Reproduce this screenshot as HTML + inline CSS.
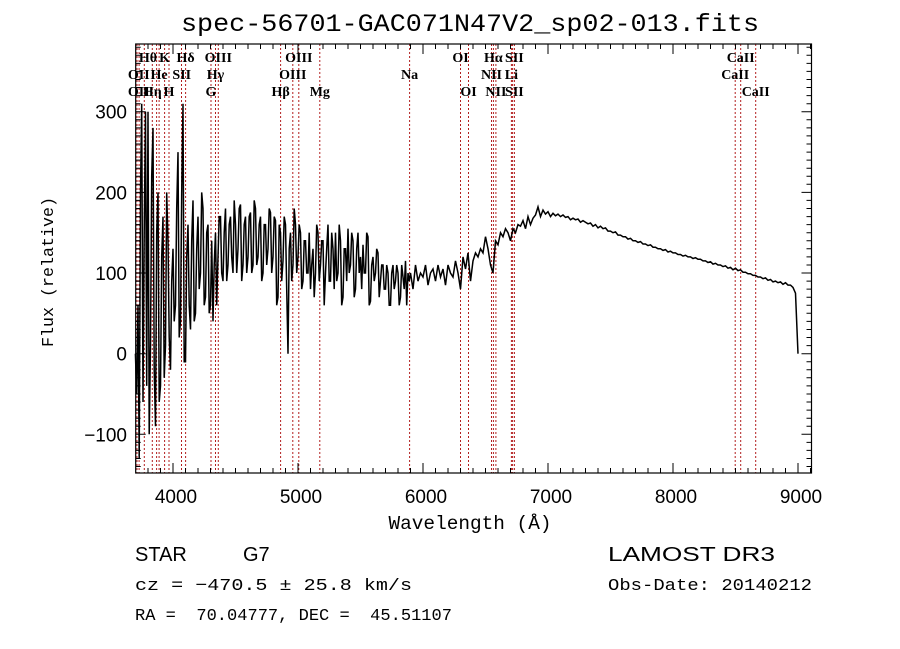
<!DOCTYPE html>
<html><head><meta charset="utf-8"><style>
html,body{margin:0;padding:0;background:#fff;}
svg{display:block;}
text{white-space:pre;}
</style></head><body>
<svg id="chart" width="900" height="649" viewBox="0 0 900 649" xmlns="http://www.w3.org/2000/svg" xml:space="preserve">
<rect width="900" height="649" fill="#fff"/>
<text x="470" y="31" text-anchor="middle" font-family="Liberation Mono, monospace" font-size="25" textLength="578" lengthAdjust="spacingAndGlyphs">spec-56701-GAC071N47V2_sp02-013.fits</text>
<g id="lines"></g>
<g id="labels" font-family="Liberation Serif, serif" font-size="14" font-weight="bold"></g>
<g id="series"></g>
<g id="axes"></g>
<text x="470" y="529" text-anchor="middle" font-family="Liberation Mono, monospace" font-size="19" textLength="163" lengthAdjust="spacingAndGlyphs">Wavelength (Å)</text>
<text transform="translate(53,272) rotate(-90)" text-anchor="middle" font-family="Liberation Mono, monospace" font-size="17" textLength="150" lengthAdjust="spacingAndGlyphs">Flux (relative)</text>
<text x="135" y="561" font-family="Liberation Sans, sans-serif" font-size="20">STAR</text>
<text x="243" y="561" font-family="Liberation Sans, sans-serif" font-size="20">G7</text>
<text x="608" y="561" font-family="Liberation Sans, sans-serif" font-size="20" textLength="167" lengthAdjust="spacingAndGlyphs">LAMOST DR3</text>
<text x="135" y="590" font-family="Liberation Mono, monospace" font-size="17" textLength="277" lengthAdjust="spacingAndGlyphs">cz = −470.5 ± 25.8 km/s</text>
<text x="608" y="590" font-family="Liberation Mono, monospace" font-size="17" textLength="204" lengthAdjust="spacingAndGlyphs">Obs-Date: 20140212</text>
<text x="135" y="620" font-family="Liberation Mono, monospace" font-size="17" textLength="317" lengthAdjust="spacingAndGlyphs">RA =  70.04777, DEC =  45.51107</text>
</svg>
<script>
const blueStart = 3700;
const blueStep = 10;
const blueFlux = [
0,-50,60,-130,200,310,-60,150,300,-40,
300,-100,10,220,280,-20,-90,150,200,-60,
-40,120,170,-30,10,200,140,20,-20,90,
130,40,60,180,250,20,40,200,310,-10,
-10,120,160,60,30,140,190,40,50,130,
170,80,100,200,180,60,70,150,160,50,
60,140,40,110,150,60,120,170,170,100,
90,150,180,90,110,160,170,120,100,190,
160,100,130,180,185,90,110,160,170,100,
120,170,175,100,110,190,180,110,120,160,
170,90,100,160,160,110,130,180,175,100,
120,170,165,60,70,160,150,90,115,170,
160,80,0,130,150,90,110,180,160,100,
120,160,150,80,90,140,140,100,100,150,
80,110,130,70,100,160,150,90,110,140,
140,60,100,130,160,90,90,150,130,80,
150,90,100,160,140,60,70,130,130,90,
155,100,110,150,140,70,80,130,150,100,
120,80,135,100,100,150,145,60,65,110,
120,90,100,130,125,70,90,110,110,80,
80,110,100,60,60,100,110,80,90,110,
100,60,70,110,95,80,115,60,100,90
];
const redStart = 5900;
const redStep = 20;
const redFlux = [
100,80,110,90,100,95,110,85,100,105,
90,110,95,105,85,110,100,95,115,100,
80,120,105,125,90,115,125,120,130,125,
145,130,110,100,140,135,150,145,155,150,
140,155,150,160,158,165,155,170,160,168,
172,182,170,178,173,176,170,174,171,173,
170,172,169,170,166,168,166,167,163,165,
163,161,162,158,160,156,158,155,156,152,
152,150,151,147,147,145,145,142,143,140,
140,138,139,136,136,134,135,132,132,130,
130,128,129,126,127,125,125,123,123,121,
122,120,120,118,119,117,117,115,115,113,
114,111,112,110,110,108,109,106,107,104,
106,103,104,101,101,99,99,97,97,95,
95,93,94,91,92,89,90,88,89,86,
88,85,85,82,75,0
];
const lineWl = [3712,3729,3771,3835,3869,3889,3933,3968,4068,4101,4304,4340,4363,4861,4959,5007,5175,5893,6300,6364,6548,6563,6583,6707,6717,6731,8498,8542,8662];
const labelText = ["Hθ","K","Hδ","OIII","OIII","OI","Hα","SII","CaII",
                   "OII","He","SII","Hγ","OIII","Na","NII","Li","CaII",
                   "OII","Hη","H","G","Hβ","Mg","OI","NII","SII","CaII"];
const labelWl = [3800,3933,4101,4363,5007,6300,6563,6731,8542,
                 3727,3889,4070,4340,4959,5893,6548,6707,8498,
                 3727,3835,3968,4304,4861,5175,6364,6583,6731,8662];
const labelRow = [0,0,0,0,0,0,0,0,0, 1,1,1,1,1,1,1,1,1, 2,2,2,2,2,2,2,2,2,2];
const xTicks = [4000,5000,6000,7000,8000,9000];
const yTicks = [-100,0,100,200,300];

const X0=135.7, X1=811.5, Y0=44, Y1=473;
const xMin=3702, xMax=9108, yMin=-148, yMax=384;
const xs = w => X0 + (w-xMin)/(xMax-xMin)*(X1-X0);
const ys = f => Y1 - (f-yMin)/(yMax-yMin)*(Y1-Y0);
const NS="http://www.w3.org/2000/svg";
function mk(tag, parent){ const e=document.createElementNS(NS,tag); parent.appendChild(e); return e; }

const gl=document.getElementById('lines');
lineWl.forEach(w=>{
  const l=mk('line',gl);
  
  
  const x=xs(w).toFixed(1);
  l.setAttribute('x1',x); l.setAttribute('x2',x);
  l.setAttribute('y1',Y0); l.setAttribute('y2',Y1);
  l.setAttribute('stroke','#b21e1e'); l.setAttribute('stroke-width','1');
  l.setAttribute('stroke-dasharray','2,2');
});
const glab=document.getElementById('labels');
labelText.forEach((t,i)=>{
  const e=mk('text',glab);
  
  
  e.setAttribute('x',xs(labelWl[i]).toFixed(1));
  e.setAttribute('y',62+labelRow[i]*17);
  e.setAttribute('text-anchor','middle');
  e.textContent=t;
});

const gs=document.getElementById('series');
const p1=blueFlux.map((f,i)=>xs(blueStart+i*blueStep).toFixed(1)+','+ys(f).toFixed(1));
const p2=redFlux.map((f,i)=>xs(redStart+i*redStep).toFixed(1)+','+ys(f).toFixed(1));
const pl=mk('polyline',gs);


pl.setAttribute('points',p1.concat(p2).join(' '));
pl.setAttribute('fill','none'); pl.setAttribute('stroke','#000'); pl.setAttribute('stroke-width','1.5');

const ga=document.getElementById('axes');
const fr=mk('rect',ga);


fr.setAttribute('x',X0); fr.setAttribute('y',Y0); fr.setAttribute('width',X1-X0); fr.setAttribute('height',Y1-Y0);
fr.setAttribute('fill','none'); fr.setAttribute('stroke','#000'); fr.setAttribute('stroke-width','1.2');
let d='';
for(let w=3800; w<=9100; w+=100){
  const x=xs(w); const len=(w%1000===0)?10:5;
  d+=`M${x.toFixed(1)},${Y1}v${-len}M${x.toFixed(1)},${Y0}v${len}`;
}
for(let f=-140; f<=380; f+=10){
  const y=ys(f); const len=(f%100===0)?10:5;
  d+=`M${X0},${y.toFixed(1)}h${len}M${X1},${y.toFixed(1)}h${-len}`;
}
const tk=mk('path',ga);


tk.setAttribute('d',d); tk.setAttribute('stroke','#000'); tk.setAttribute('stroke-width','1');
xTicks.forEach(v=>{
  const t=mk('text',ga);
  
  
  t.setAttribute('x',(xs(v)+3).toFixed(1)); t.setAttribute('y','503');
  t.setAttribute('text-anchor','middle');
  t.setAttribute('font-family','Liberation Sans, sans-serif'); t.setAttribute('font-size','19');
  t.textContent=String(v);
});
yTicks.forEach(v=>{
  const t=mk('text',ga);
  
  
  t.setAttribute('x','127'); t.setAttribute('y',(ys(v)+7).toFixed(1));
  t.setAttribute('text-anchor','end');
  t.setAttribute('font-family','Liberation Sans, sans-serif'); t.setAttribute('font-size','19');
  t.textContent=v<0?('−'+Math.abs(v)):String(v);
});
</script>
</body></html>
